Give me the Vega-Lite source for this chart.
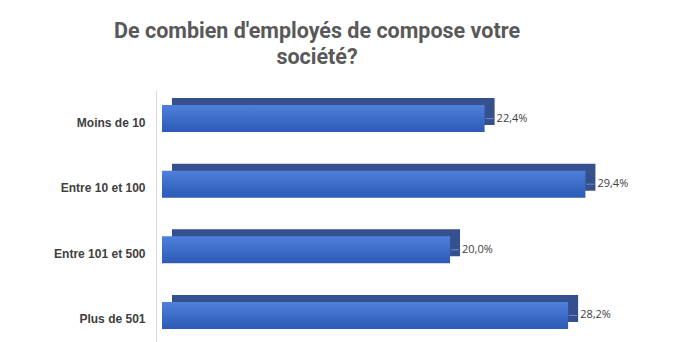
{
  "$schema": "https://vega.github.io/schema/vega-lite/v6.json",
  "width": 532,
  "height": 254,
  "autosize": "none",
  "padding": {"left": 162, "top": 90, "right": 0, "bottom": 0},
  "background": "white",
  "title": {
    "text": ["De combien d'employés de compose votre", "société?"],
    "anchor": "middle",
    "frame": "group",
    "dx": -111,
    "offset": 22,
    "font": "Roboto",
    "fontSize": 21.5,
    "fontWeight": "bold",
    "color": "#595959",
    "lineHeight": 26
  },
  "data": {
    "values": [
      {"cat": "Moins de 10", "pct": 0.224},
      {"cat": "Entre 10 et 100", "pct": 0.294},
      {"cat": "Entre 101 et 500", "pct": 0.2},
      {"cat": "Plus de 501", "pct": 0.282}
    ]
  },
  "encoding": {
    "y": {
      "field": "cat",
      "type": "nominal",
      "sort": null,
      "scale": {"paddingInner": 0.59, "paddingOuter": 0.23},
      "axis": {
        "title": null,
        "offset": 6,
        "ticks": false,
        "domainColor": "#d9d9d9",
        "domainWidth": 1,
        "labelPadding": 11,
        "labelOffset": 4,
        "labelFont": "Liberation Sans",
        "labelFontSize": 12,
        "labelFontWeight": "bold",
        "labelColor": "#404040"
      }
    },
    "x": {
      "field": "pct",
      "type": "quantitative",
      "scale": {"domain": [0, 0.3694], "nice": false, "zero": true},
      "axis": null
    }
  },
  "layer": [
    {"mark": {"type": "bar", "xOffset": 10, "yOffset": -7, "color": "#34508F"}},
    {
      "mark": {
        "type": "bar",
        "color": {
          "gradient": "linear",
          "x1": 0, "y1": 0, "x2": 0, "y2": 1,
          "stops": [
            {"offset": 0, "color": "#4E80DC"},
            {"offset": 1, "color": "#2C5AB6"}
          ]
        }
      }
    },
    {
      "mark": {"type": "tick", "orient": "horizontal", "size": 8, "thickness": 1, "xOffset": 5, "color": "#8FA6CF"}
    },
    {
      "mark": {"type": "text", "align": "left", "baseline": "middle", "dx": 12, "font": "Open Sans", "fontSize": 11, "color": "#404040"},
      "encoding": {"text": {"field": "pct", "format": ".1%"}}
    }
  ],
  "config": {
    "view": {"stroke": null},
    "locale": {
      "number": {"decimal": ",", "thousands": " ", "grouping": [3], "currency": ["", " €"]}
    }
  }
}
